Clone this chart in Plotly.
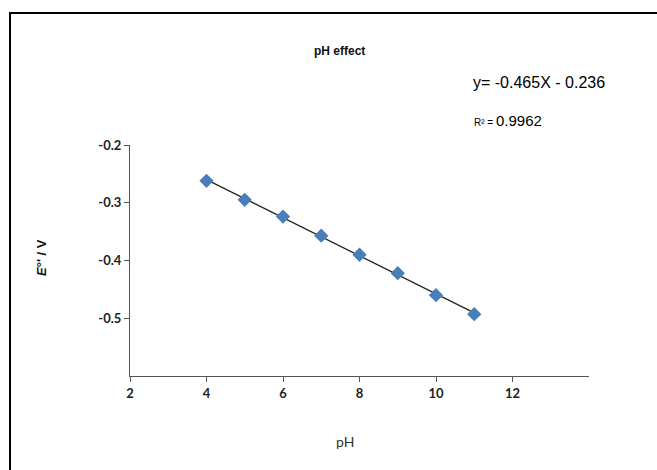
import numpy as np
import plotly.graph_objects as go

# data
ph = [4, 5, 6, 7, 8, 9, 10, 11]
e_formal = [-0.262, -0.295, -0.324, -0.357, -0.390, -0.422, -0.460, -0.493]
x_ticks = [2, 4, 6, 8, 10, 12]
x_tick_text = ["2", "4", "6", "8", "10", "12"]
y_ticks = [-0.2, -0.3, -0.4, -0.5]
y_tick_text = ["-0.2", "-0.3", "-0.4", "-0.5"]
title_text = "pH effect"
eq_text = "y= -0.465X - 0.236"
r2_text = "<span style='font-size:10px'>R²</span><span style='font-size:10px'> = </span>0.9962"

slope, intercept = np.polyfit(ph, e_formal, 1)
fit_x = [ph[0], ph[-1]]
fit_y = [slope * v + intercept for v in fit_x]

fig = go.Figure()
fig.add_trace(go.Scatter(x=fit_x, y=fit_y, mode="lines",
                         line=dict(color="#222222", width=1.3), showlegend=False))
fig.add_trace(go.Scatter(x=ph, y=e_formal, mode="markers",
                         marker=dict(symbol="diamond", size=11, color="#4A7EBB",
                                     line=dict(width=0)), showlegend=False))

tick_font = dict(family="Lato, Carlito, Liberation Sans", size=13, color="#222222")
fig.update_xaxes(range=[2, 14], tickvals=x_ticks,
                 ticktext=["<b>" + t + "</b>" for t in x_tick_text],
                 ticks="outside", ticklen=5,
                 tickcolor="#555555", showline=True, linecolor="#555555", linewidth=1,
                 showgrid=False, zeroline=False, tickfont=tick_font)
fig.update_yaxes(range=[-0.6, -0.2], tickvals=y_ticks,
                 ticktext=["<b>" + t + "</b>" for t in y_tick_text],
                 ticks="outside", ticklen=5, tickcolor="#555555", showline=True,
                 linecolor="#555555", linewidth=1, showgrid=False, zeroline=False,
                 tickfont=tick_font)

fig.update_layout(
    width=657, height=470,
    margin=dict(l=130, r=68, t=145, b=94),
    plot_bgcolor="white", paper_bgcolor="white",
    font=dict(family="Liberation Sans", color="#111111"),
    annotations=[
        dict(text="<b>" + title_text + "</b>", xref="paper", yref="paper",
             x=0.4575, y=1.407, showarrow=False, xanchor="center", yanchor="middle",
             font=dict(family="Liberation Sans Narrow, Liberation Sans", size=12)),
        dict(text=eq_text, xref="paper", yref="paper", x=0.743, y=1.2727,
             showarrow=False, xanchor="left", yanchor="middle",
             font=dict(family="Liberation Sans Narrow, Liberation Sans", size=16, color="#000000")),
        dict(text=r2_text, xref="paper", yref="paper", x=0.745, y=1.108,
             showarrow=False, xanchor="left", yanchor="middle",
             font=dict(family="Liberation Sans Narrow, Liberation Sans", size=15, color="#000000")),
        dict(text="<b><i>E</i>°' / V</b>", xref="paper", yref="paper", x=-0.1917, y=0.511,
             showarrow=False, textangle=-90, xanchor="center", yanchor="middle",
             font=dict(family="Liberation Sans", size=13)),
        dict(text="pH", xref="paper", yref="paper", x=0.468, y=-0.2857,
             showarrow=False, xanchor="center", yanchor="middle",
             font=dict(family="Lato, Liberation Sans", size=14, color="#333333")),
    ],
    shapes=[
        dict(type="rect", xref="paper", yref="paper", x0=-0.2614, y0=-1.0, x1=2.0, y1=1.5714,
             line=dict(color="black", width=2), fillcolor="rgba(0,0,0,0)", layer="below"),
    ],
)

fig.write_html("out.html")
